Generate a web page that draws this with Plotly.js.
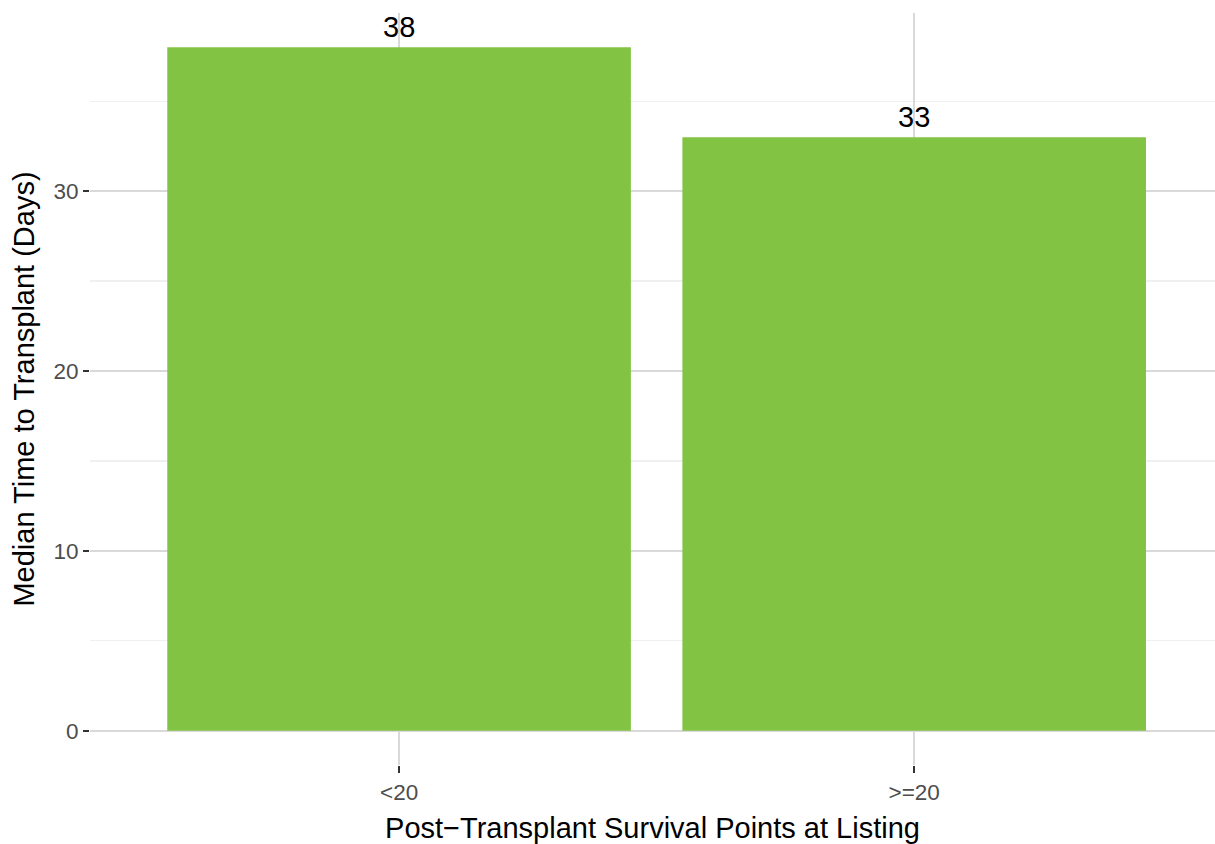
<!DOCTYPE html>
<html>
<head>
<meta charset="utf-8">
<script src="https://cdn.plot.ly/plotly-3.0.1.min.js"></script>
<style>html,body{margin:0;padding:0;background:#fff;}#chart{width:1215px;height:844px;}</style>
</head>
<body>
<div id="chart"></div>
<script>
const categories = ["<20", ">=20"];
const medianDays = [38, 33];
const barLabels = ["38", "33"];
const xTitle = "Post\u2212Transplant Survival Points at Listing";
const yTitle = "Median Time to Transplant (Days)";

const font = "Liberation Sans, Arial, Helvetica, sans-serif";

const trace = {
  type: "bar",
  x: categories,
  y: medianDays,
  width: 0.9,
  marker: {color: "#83C343", line: {width: 0}},
  hoverinfo: "x+y"
};

const annotations = categories.map((c, i) => ({
  x: c, y: medianDays[i], xref: "x", yref: "y",
  text: barLabels[i], showarrow: false,
  yanchor: "bottom", yshift: 2,
  font: {family: font, size: 29, color: "#000"}
}));

const layout = {
  width: 1215, height: 844,
  margin: {l: 90, r: 0, t: 13, b: 79, pad: 0},
  paper_bgcolor: "#fff", plot_bgcolor: "#fff",
  showlegend: false,
  font: {family: font},
  xaxis: {
    type: "category",
    range: [-0.6, 1.584],
    showgrid: true, gridcolor: "#D9D9D9", gridwidth: 2.5,
    zeroline: false, showline: false,
    ticks: "outside", ticklen: 7, tickwidth: 2.5, tickcolor: "#333",
    tickfont: {family: font, size: 22.5, color: "#4D4D4D"},
    title: {text: xTitle, font: {family: font, size: 29, color: "#000"}, standoff: 14},
    automargin: false
  },
  yaxis: {
    range: [-1.9, 39.9],
    tickvals: [0, 10, 20, 30],
    showgrid: true, gridcolor: "#D9D9D9", gridwidth: 2.5,
    minor: {tickvals: [5, 15, 25, 35], showgrid: true, gridcolor: "#F0F0F0", gridwidth: 1.2, ticks: ""},
    zeroline: false, showline: false,
    ticks: "outside", ticklen: 6, tickwidth: 2.5, tickcolor: "#333",
    tickfont: {family: font, size: 22.5, color: "#4D4D4D"},
    title: {text: yTitle, font: {family: font, size: 29, color: "#000"}, standoff: 10},
    automargin: false
  },
  annotations: annotations
};

Plotly.newPlot("chart", [trace], layout, {displayModeBar: false, staticPlot: true});
</script>
</body>
</html>
